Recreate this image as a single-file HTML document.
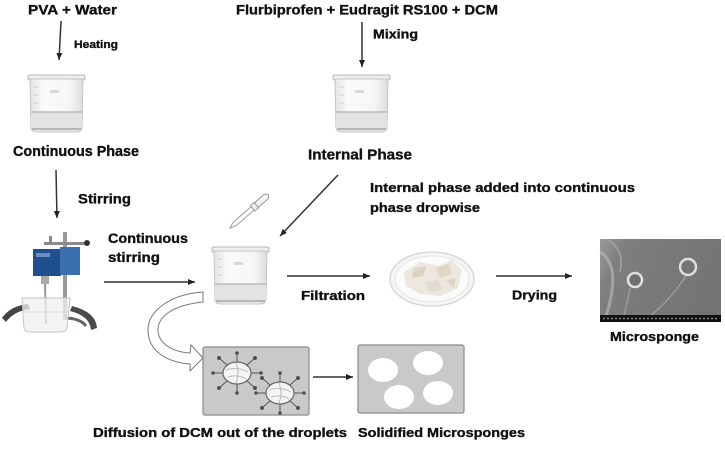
<!DOCTYPE html>
<html><head><meta charset="utf-8"><style>
html,body{margin:0;padding:0;background:#fff;}
svg{display:block;}
text{font-family:"Liberation Sans",Arial,sans-serif;font-weight:bold;fill:#111;stroke:#111;stroke-width:0.35;}
</style></head><body>
<svg width="725" height="470" viewBox="0 0 725 470" xmlns="http://www.w3.org/2000/svg">
<defs>
  <marker id="ah" markerWidth="8" markerHeight="8" refX="7" refY="4" orient="auto" markerUnits="userSpaceOnUse">
    <path d="M0,1 L7,4 L0,7 Z" fill="#222"/>
  </marker>
  <linearGradient id="glass" x1="0" x2="1" y1="0" y2="0">
    <stop offset="0" stop-color="#e4e4e4"/>
    <stop offset="0.25" stop-color="#fafafa"/>
    <stop offset="0.75" stop-color="#f6f6f6"/>
    <stop offset="1" stop-color="#dcdcdc"/>
  </linearGradient>
  <linearGradient id="sem" x1="0" x2="1" y1="0" y2="0.3">
    <stop offset="0" stop-color="#9a9a9a"/>
    <stop offset="0.2" stop-color="#7e7e7e"/>
    <stop offset="1" stop-color="#747474"/>
  </linearGradient>
  <g id="beaker">
    <rect x="0" y="0" width="57" height="5" rx="1.5" fill="#eeeeee" stroke="#b8b8b8" stroke-width="1"/>
    <path d="M2,4 L3,52 Q3,57 9,57 L48,57 Q54,57 54,52 L55,4 Z" fill="url(#glass)" stroke="#c4c4c4" stroke-width="1"/>
    <path d="M3,37 L54,37 L54,52 Q54,56 48,56 L9,56 Q3,56 3,52 Z" fill="#e3e3e3"/>
    <line x1="3" y1="37" x2="54" y2="37" stroke="#b0b0b0" stroke-width="1.2"/>
    <line x1="4" y1="54" x2="53" y2="54" stroke="#a8a8a8" stroke-width="1.5"/>
    <rect x="22" y="15" width="9" height="3" fill="#d8d8d8"/>
    <line x1="6" y1="12" x2="11" y2="12" stroke="#cfcfcf"/>
    <line x1="6" y1="20" x2="11" y2="20" stroke="#cfcfcf"/>
    <line x1="6" y1="28" x2="11" y2="28" stroke="#cfcfcf"/>
  </g>
</defs>

<rect width="725" height="470" fill="#fff"/>

<text x="28" y="14.5" font-size="14" textLength="89" lengthAdjust="spacingAndGlyphs">PVA + Water</text>
<text x="236" y="14.5" font-size="14" textLength="262" lengthAdjust="spacingAndGlyphs">Flurbiprofen + Eudragit RS100 + DCM</text>

<line x1="61" y1="21" x2="59" y2="60" stroke="#333" stroke-width="1.5" marker-end="url(#ah)"/>
<text x="74" y="48" font-size="11" textLength="44" lengthAdjust="spacingAndGlyphs">Heating</text>

<line x1="362" y1="22" x2="362" y2="67" stroke="#333" stroke-width="1.5" marker-end="url(#ah)"/>
<text x="373" y="38.5" font-size="13" textLength="45" lengthAdjust="spacingAndGlyphs">Mixing</text>

<use href="#beaker" x="28" y="75"/>
<use href="#beaker" x="333" y="75"/>

<text x="13" y="156" font-size="15" textLength="126" lengthAdjust="spacingAndGlyphs">Continuous Phase</text>
<text x="308" y="159.5" font-size="15" textLength="104" lengthAdjust="spacingAndGlyphs">Internal Phase</text>

<line x1="56" y1="170" x2="57" y2="218" stroke="#333" stroke-width="1.5" marker-end="url(#ah)"/>
<text x="78" y="203.5" font-size="13.5" textLength="53" lengthAdjust="spacingAndGlyphs">Stirring</text>

<g>
  <path d="M2,318 Q10,306 28,304 L30,309 Q14,311 6,322 Z" fill="#444"/>
  <path d="M97,328 Q96,312 72,306 L70,311 Q90,316 91,330 Z" fill="#4a4a4a"/>
  <path d="M64,318 Q80,318 86,326" stroke="#666" stroke-width="3" fill="none"/>
  <rect x="63" y="232" width="4" height="88" fill="#9a9a9a"/>
  <rect x="44" y="242" width="44" height="3" fill="#8a8a8a"/>
  <circle cx="87" cy="243" r="3" fill="#333"/>
  <rect x="49" y="236" width="3" height="8" fill="#888"/>
  <rect x="33" y="249" width="28" height="27" fill="#1f4f8c"/>
  <rect x="60" y="247" width="20" height="28" fill="#3a6fb0"/>
  <rect x="36" y="253" width="14" height="4" fill="#6d8fbf"/>
  <rect x="41" y="276" width="8" height="8" fill="#aaa"/>
  <line x1="45" y1="284" x2="46" y2="324" stroke="#999" stroke-width="2"/>
  <path d="M22,298 L70,298 L67,328 Q66,332 60,332 L30,332 Q25,332 24,328 Z" fill="#eef0f2" fill-opacity="0.75" stroke="#c2c6ca" stroke-width="1"/>
  <line x1="24" y1="312" x2="68" y2="312" stroke="#d4d7da"/>
</g>

<text x="108" y="243" font-size="14" textLength="80" lengthAdjust="spacingAndGlyphs">Continuous</text>
<text x="108" y="262" font-size="14" textLength="52" lengthAdjust="spacingAndGlyphs">stirring</text>
<line x1="104" y1="282" x2="195" y2="282" stroke="#333" stroke-width="1.5" marker-end="url(#ah)"/>

<g transform="translate(230,228) rotate(-41)">
  <path d="M0,0 L6,-2.2 L30,-2.2 L30,2.2 L6,2.2 Z" fill="#fff" stroke="#999" stroke-width="1"/>
  <rect x="30" y="-3.5" width="5" height="7" fill="#eee" stroke="#999" stroke-width="1"/>
  <path d="M35,-3 L48,-3 Q53,0 48,3 L35,3 Z" fill="#f4f4f4" stroke="#999" stroke-width="1"/>
</g>

<line x1="338" y1="175" x2="280" y2="236" stroke="#333" stroke-width="1.5" marker-end="url(#ah)"/>

<text x="370" y="192" font-size="13" textLength="265" lengthAdjust="spacingAndGlyphs">Internal phase added into continuous</text>
<text x="370" y="212" font-size="13" textLength="110" lengthAdjust="spacingAndGlyphs">phase dropwise</text>

<use href="#beaker" x="212" y="247"/>

<line x1="287" y1="276" x2="370" y2="276" stroke="#333" stroke-width="1.5" marker-end="url(#ah)"/>
<text x="301" y="300" font-size="13" textLength="64" lengthAdjust="spacingAndGlyphs">Filtration</text>

<g>
  <ellipse cx="432" cy="279" rx="42" ry="27" fill="#f6f6f6" stroke="#d8d8d8" stroke-width="1.5"/>
  <ellipse cx="432" cy="279" rx="37" ry="23" fill="#fbfbfb" stroke="#e4e4e4" stroke-width="1"/>
  <path d="M404,272 L420,262 L438,266 L452,260 L462,270 L458,288 L440,296 L420,294 L406,286 Z" fill="#ece7df"/>
  <path d="M414,268 L426,266 L424,276 L412,278 Z" fill="#ddd3c4"/>
  <path d="M436,268 L448,264 L452,274 L440,278 Z" fill="#e0d6c6"/>
  <path d="M426,282 L438,280 L442,290 L428,292 Z" fill="#e3dbcf"/>
  <path d="M446,280 L456,278 L454,288 Z" fill="#ddd4c6"/>
</g>

<line x1="496" y1="276" x2="572" y2="276" stroke="#333" stroke-width="1.5" marker-end="url(#ah)"/>
<text x="512" y="299.5" font-size="13" textLength="45" lengthAdjust="spacingAndGlyphs">Drying</text>

<g>
  <rect x="600" y="239" width="121" height="83" fill="url(#sem)"/>
  <path d="M600,252 Q616,262 612,290 Q610,305 606,316" stroke="#b4b4b4" stroke-width="3" fill="none" opacity="0.7"/>
  <path d="M608,240 Q625,250 620,272" stroke="#a8a8a8" stroke-width="2" fill="none" opacity="0.7"/>
  <path d="M630,288 Q628,300 624,315" stroke="#9a9a9a" stroke-width="1.5" fill="none"/>
  <path d="M686,276 Q670,300 650,316" stroke="#9a9a9a" stroke-width="1.5" fill="none"/>
  <circle cx="635" cy="280" r="7" fill="#707070" stroke="#e0e0e0" stroke-width="2.5"/>
  <circle cx="688" cy="267" r="8" fill="#747474" stroke="#dedede" stroke-width="2.5"/>
  <rect x="600" y="315" width="121" height="7" fill="#111"/>
  <line x1="603" y1="318.5" x2="718" y2="318.5" stroke="#888" stroke-width="1.5" stroke-dasharray="2 2"/>
</g>
<text x="610" y="341" font-size="13" textLength="89" lengthAdjust="spacingAndGlyphs">Microsponge</text>

<path d="M203,292 C172,294 148,310 148,330 C148,350 165,362 190,364 L190,371 L203,358 L191,345 L190,353 C172,352 158,343 158,330 C158,315 175,305 203,302 Z" fill="#fff" stroke="#777" stroke-width="1"/>

<rect x="203" y="347" width="106" height="68" rx="2" fill="#c9c9c9" stroke="#8a8a8a" stroke-width="1.2"/>
<g stroke="#555" stroke-width="1" fill="#444">
  <g transform="translate(237,373)">
    <line x1="-14" y1="0" x2="-24" y2="0"/><circle cx="-24" cy="0" r="1.3"/>
    <line x1="14" y1="0" x2="24" y2="0"/><circle cx="24" cy="0" r="1.3"/>
    <line x1="0" y1="-11" x2="0" y2="-20"/><circle cx="0" cy="-20" r="1.3"/>
    <line x1="0" y1="11" x2="0" y2="20"/><circle cx="0" cy="20" r="1.3"/>
    <line x1="-10" y1="-8" x2="-18" y2="-15"/><circle cx="-18" cy="-15" r="1.5"/>
    <line x1="10" y1="-8" x2="18" y2="-15"/><circle cx="18" cy="-15" r="1.5"/>
    <line x1="-10" y1="8" x2="-18" y2="15"/><circle cx="-18" cy="15" r="1.5"/>
    <line x1="10" y1="8" x2="18" y2="15"/><circle cx="18" cy="15" r="1.5"/>
  </g>
  <g transform="translate(280,393)">
    <line x1="-14" y1="0" x2="-24" y2="0"/><circle cx="-24" cy="0" r="1.3"/>
    <line x1="14" y1="0" x2="24" y2="0"/><circle cx="24" cy="0" r="1.3"/>
    <line x1="0" y1="-11" x2="0" y2="-20"/><circle cx="0" cy="-20" r="1.3"/>
    <line x1="0" y1="11" x2="0" y2="20"/><circle cx="0" cy="20" r="1.3"/>
    <line x1="-10" y1="-8" x2="-18" y2="-15"/><circle cx="-18" cy="-15" r="1.5"/>
    <line x1="10" y1="-8" x2="18" y2="-15"/><circle cx="18" cy="-15" r="1.5"/>
    <line x1="-10" y1="8" x2="-18" y2="15"/><circle cx="-18" cy="15" r="1.5"/>
    <line x1="10" y1="8" x2="18" y2="15"/><circle cx="18" cy="15" r="1.5"/>
  </g>
</g>
<ellipse cx="237" cy="373" rx="14" ry="11" fill="#f4f4f4" stroke="#666" stroke-width="1.2"/>
<path d="M226,370 Q237,366 248,372 M228,377 Q238,374 246,379 M236,363 Q240,373 236,383" stroke="#bbb" fill="none"/>
<ellipse cx="280" cy="393" rx="14" ry="11" fill="#f4f4f4" stroke="#666" stroke-width="1.2"/>
<path d="M269,390 Q280,386 291,392 M271,397 Q281,394 289,399 M279,383 Q283,393 279,403" stroke="#bbb" fill="none"/>

<line x1="313" y1="377" x2="353" y2="377" stroke="#333" stroke-width="1.5" marker-end="url(#ah)"/>

<rect x="358" y="345" width="106" height="68" rx="2" fill="#c9c9c9" stroke="#8a8a8a" stroke-width="1.2"/>
<ellipse cx="383" cy="370" rx="15" ry="12" fill="#fff"/>
<ellipse cx="428" cy="363" rx="15" ry="12" fill="#fff"/>
<ellipse cx="399" cy="397" rx="15" ry="12" fill="#fff"/>
<ellipse cx="438" cy="393" rx="15" ry="12" fill="#fff"/>

<text x="93" y="437" font-size="13" textLength="254" lengthAdjust="spacingAndGlyphs">Diffusion of DCM out of the droplets</text>
<text x="358" y="437" font-size="13" textLength="167" lengthAdjust="spacingAndGlyphs">Solidified Microsponges</text>
</svg>
</body></html>
